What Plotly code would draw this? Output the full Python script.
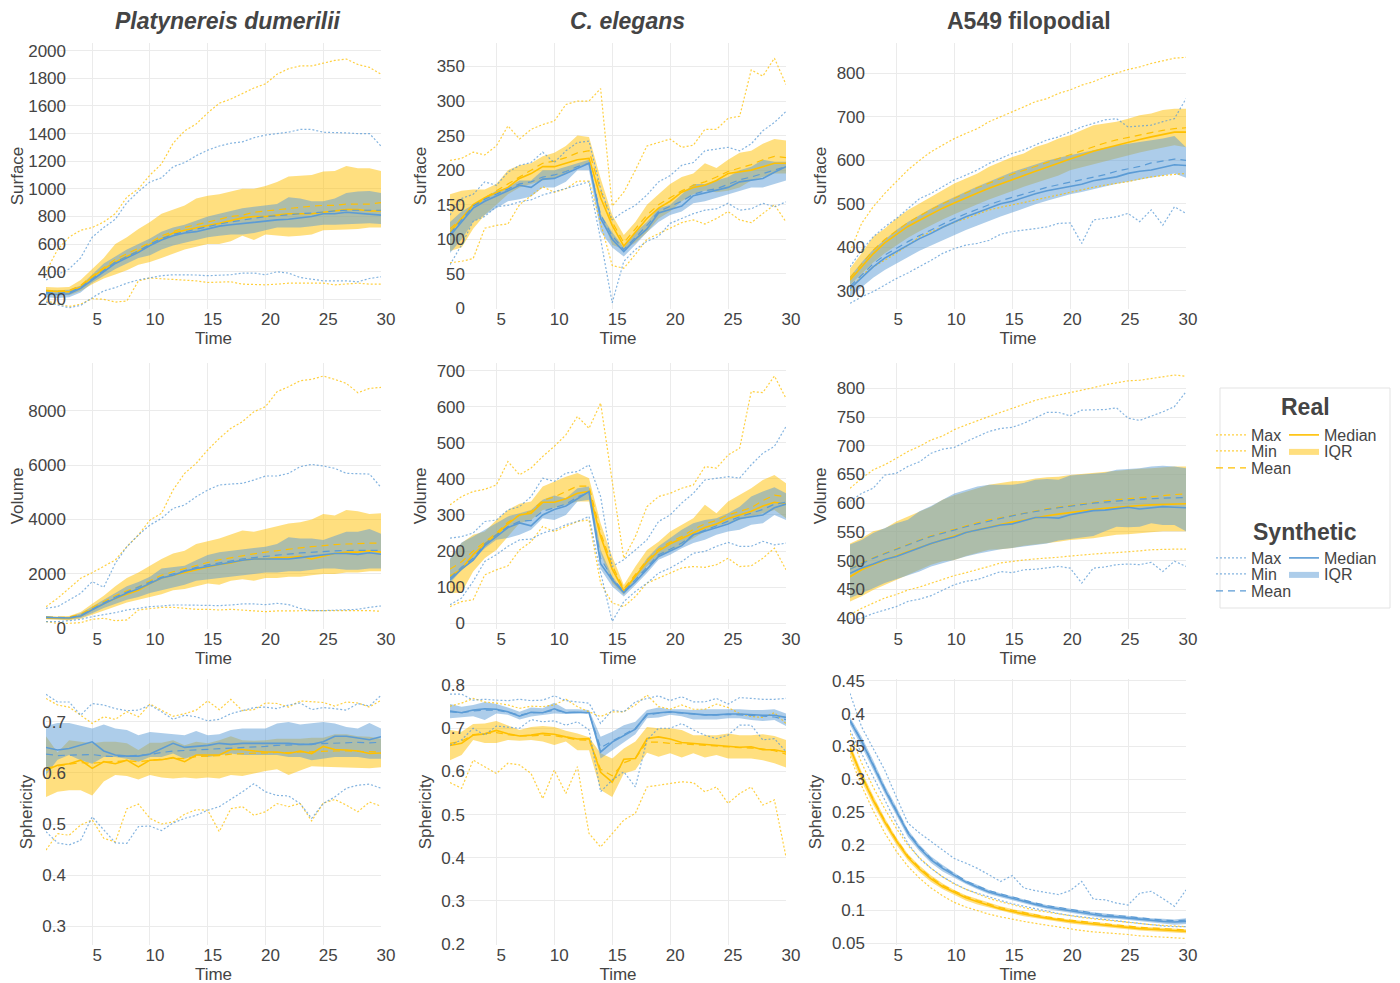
import plotly.graph_objects as go

# ---------------- data ----------------
time = list(range(1, 31))
metrics = ["Surface", "Volume", "Sphericity"]
datasets = ["Platynereis dumerilii", "C. elegans", "A549 filopodial"]
stat_names = ["Max", "Min", "Mean", "Median", "IQR"]

# Platynereis dumerilii - Surface
pd_surf_real_max = [400, 560, 650, 700, 720, 760, 820, 940, 1000, 1100, 1180, 1330, 1420, 1470, 1550, 1620, 1650, 1690, 1730, 1760, 1830, 1870, 1890, 1890, 1910, 1930, 1940, 1900, 1880, 1830]
pd_surf_real_min = [188, 170, 148, 165, 205, 200, 180, 188, 334, 354, 350, 346, 340, 334, 322, 325, 327, 310, 305, 305, 310, 317, 317, 317, 317, 305, 310, 317, 310, 310]
pd_surf_real_q1 = [240, 230, 230, 260, 310, 350, 380, 410, 450, 470, 500, 530, 560, 580, 600, 600, 620, 660, 630, 670, 660, 655, 660, 670, 700, 700, 705, 710, 720, 720]
pd_surf_real_q3 = [290, 285, 290, 340, 420, 500, 600, 650, 710, 760, 820, 850, 880, 930, 950, 960, 980, 1000, 1000, 1020, 1050, 1090, 1095, 1100, 1125, 1130, 1165, 1150, 1150, 1130]
pd_surf_real_med = [260, 255, 255, 290, 360, 420, 470, 510, 550, 600, 640, 680, 700, 720, 735, 750, 770, 790, 800, 800, 810, 820, 820, 820, 830, 840, 850, 850, 840, 840]
pd_surf_real_mean = [265, 260, 265, 300, 370, 430, 490, 530, 570, 610, 660, 690, 720, 740, 760, 780, 800, 810, 830, 840, 850, 860, 870, 875, 880, 880, 890, 890, 890, 900]
pd_surf_syn_max = [340, 380, 420, 500, 650, 720, 780, 900, 980, 1050, 1080, 1160, 1190, 1240, 1280, 1310, 1330, 1340, 1370, 1390, 1400, 1410, 1430, 1430, 1410, 1410, 1405, 1400, 1400, 1310]
pd_surf_syn_min = [180, 160, 139, 156, 212, 261, 285, 317, 341, 356, 371, 378, 378, 376, 371, 374, 378, 390, 390, 378, 400, 390, 358, 346, 334, 334, 334, 327, 351, 363]
pd_surf_syn_q1 = [215, 210, 215, 250, 320, 370, 420, 460, 500, 520, 560, 590, 610, 630, 650, 660, 670, 670, 680, 700, 720, 720, 720, 730, 740, 740, 745, 745, 750, 745]
pd_surf_syn_q3 = [270, 265, 270, 300, 380, 460, 510, 560, 600, 640, 690, 720, 740, 770, 800, 820, 840, 860, 870, 880, 890, 940, 930, 910, 910, 930, 970, 980, 985, 970]
pd_surf_syn_med = [240, 235, 240, 280, 340, 400, 460, 500, 540, 590, 630, 660, 680, 690, 710, 730, 740, 750, 760, 770, 775, 780, 790, 800, 820, 820, 830, 825, 820, 810]
pd_surf_syn_mean = [250, 245, 250, 285, 350, 410, 470, 510, 550, 600, 640, 670, 690, 710, 730, 745, 760, 775, 790, 800, 805, 815, 820, 825, 835, 840, 845, 845, 845, 845]

# C. elegans - Surface
ce_surf_real_max = [214, 217, 226, 222, 235, 264, 245, 259, 266, 271, 295, 300, 300, 318, 148, 168, 200, 235, 240, 245, 233, 236, 259, 259, 275, 278, 345, 336, 362, 324]
ce_surf_real_min = [66, 68, 72, 116, 120, 122, 150, 163, 176, 168, 173, 184, 184, 123, 62, 58, 78, 100, 108, 115, 124, 128, 122, 130, 140, 128, 124, 137, 150, 125]
ce_surf_real_q1 = [83, 88, 115, 135, 150, 165, 175, 180, 185, 188, 195, 205, 210, 135, 92, 85, 95, 110, 130, 140, 155, 165, 170, 168, 170, 175, 185, 190, 195, 195]
ce_surf_real_q3 = [165, 170, 172, 172, 180, 200, 207, 210, 220, 225, 235, 250, 248, 188, 135, 106, 125, 150, 165, 180, 190, 195, 210, 203, 215, 225, 228, 238, 245, 243]
ce_surf_real_med = [110, 130, 150, 160, 168, 175, 188, 195, 205, 205, 210, 215, 217, 160, 120, 90, 110, 130, 145, 155, 168, 175, 178, 185, 195, 197, 200, 205, 210, 210]
ce_surf_real_mean = [115, 130, 145, 160, 170, 180, 190, 200, 210, 213, 218, 225, 228, 170, 125, 95, 115, 135, 150, 160, 170, 178, 183, 190, 198, 203, 208, 215, 220, 218]
ce_surf_syn_max = [135, 159, 165, 183, 178, 197, 207, 211, 226, 211, 228, 240, 242, 173, 128, 140, 149, 164, 183, 192, 207, 211, 228, 231, 233, 228, 238, 257, 269, 285]
ce_surf_syn_min = [63, 92, 126, 133, 147, 149, 154, 157, 164, 169, 173, 178, 183, 100, 8, 68, 85, 97, 104, 123, 130, 137, 142, 144, 152, 142, 144, 152, 147, 154]
ce_surf_syn_q1 = [80, 100, 125, 135, 145, 155, 158, 162, 175, 175, 183, 200, 200, 111, 88, 75, 92, 110, 125, 135, 140, 152, 155, 160, 165, 170, 175, 175, 180, 185]
ce_surf_syn_q3 = [125, 140, 150, 160, 170, 175, 185, 185, 200, 200, 205, 210, 215, 137, 110, 88, 110, 125, 145, 150, 165, 180, 180, 185, 190, 200, 205, 215, 212, 212]
ce_surf_syn_med = [105, 125, 145, 155, 162, 170, 178, 175, 187, 188, 195, 202, 210, 130, 100, 82, 100, 115, 138, 143, 148, 163, 167, 170, 175, 183, 186, 188, 197, 205]
ce_surf_syn_mean = [108, 128, 148, 158, 165, 173, 180, 183, 190, 193, 198, 205, 210, 135, 105, 85, 103, 120, 140, 147, 155, 165, 170, 173, 180, 186, 190, 195, 200, 205]

# A549 filopodial - Surface
a5_surf_real_max = [390, 455, 493, 524, 551, 578, 600, 620, 635, 650, 662, 673, 689, 700, 712, 723, 735, 742, 754, 762, 773, 781, 792, 800, 809, 815, 823, 829, 835, 837]
a5_surf_real_min = [300, 336, 355, 371, 386, 405, 424, 436, 447, 457, 466, 476, 486, 492, 497, 503, 509, 515, 520, 526, 532, 538, 543, 547, 551, 557, 562, 565, 568, 570]
a5_surf_real_q1 = [313, 340, 365, 386, 405, 422, 437, 451, 464, 476, 488, 499, 510, 520, 530, 539, 548, 556, 565, 577, 584, 591, 598, 605, 612, 618, 624, 630, 635, 630]
a5_surf_real_q3 = [351, 386, 424, 443, 466, 486, 501, 516, 532, 547, 558, 570, 585, 597, 608, 616, 631, 639, 650, 658, 670, 681, 685, 689, 696, 704, 708, 716, 719, 719]
a5_surf_real_med = [325, 355, 385, 410, 430, 448, 462, 476, 490, 502, 514, 525, 536, 546, 556, 565, 575, 584, 594, 603, 612, 621, 628, 635, 642, 648, 654, 660, 665, 665]
a5_surf_real_mean = [330, 362, 393, 418, 438, 457, 472, 487, 500, 513, 525, 537, 548, 558, 568, 577, 587, 596, 605, 614, 623, 632, 640, 647, 653, 659, 664, 669, 673, 675]
a5_surf_syn_max = [355, 393, 424, 447, 466, 489, 512, 524, 539, 555, 566, 578, 593, 604, 616, 624, 635, 647, 654, 666, 677, 685, 693, 696, 677, 679, 681, 689, 696, 742]
a5_surf_syn_min = [271, 286, 298, 313, 328, 341, 355, 370, 386, 397, 405, 409, 416, 430, 436, 439, 443, 447, 455, 456, 409, 463, 466, 470, 478, 459, 486, 451, 493, 478]
a5_surf_syn_q1 = [286, 308, 330, 348, 363, 378, 392, 404, 416, 428, 440, 450, 461, 471, 480, 490, 499, 507, 515, 522, 527, 534, 540, 546, 551, 555, 560, 566, 570, 560]
a5_surf_syn_q3 = [332, 365, 395, 418, 440, 458, 474, 489, 503, 516, 528, 540, 551, 562, 573, 582, 591, 599, 606, 612, 618, 624, 629, 634, 638, 642, 646, 650, 656, 630]
a5_surf_syn_med = [305, 330, 355, 375, 390, 405, 420, 432, 446, 458, 470, 480, 490, 500, 506, 515, 523, 530, 535, 540, 545, 553, 558, 562, 570, 575, 578, 584, 590, 588]
a5_surf_syn_mean = [310, 336, 362, 382, 398, 413, 427, 440, 453, 466, 477, 488, 498, 507, 515, 523, 531, 538, 544, 550, 556, 562, 567, 575, 580, 586, 594, 598, 603, 600]

# Platynereis dumerilii - Volume
pd_vol_real_max = [797, 1103, 1470, 1838, 2046, 2267, 2512, 3002, 3431, 3982, 4227, 5085, 5697, 6065, 6555, 6983, 7351, 7596, 7963, 8147, 8698, 8882, 9102, 9151, 9274, 9151, 9005, 8662, 8820, 8857]
pd_vol_real_min = [246, 184, 184, 209, 331, 368, 282, 307, 674, 736, 772, 772, 736, 699, 699, 674, 699, 674, 650, 613, 638, 650, 650, 650, 650, 650, 650, 674, 650, 625]
pd_vol_real_q1 = [330, 310, 300, 350, 500, 650, 800, 950, 1050, 1150, 1250, 1400, 1450, 1550, 1650, 1600, 1750, 1800, 1750, 1850, 1850, 1900, 1900, 1950, 2000, 2000, 2050, 2050, 2100, 2100]
pd_vol_real_q3 = [450, 430, 450, 600, 900, 1200, 1550, 1850, 2050, 2300, 2550, 2750, 2850, 3100, 3200, 3300, 3450, 3600, 3550, 3650, 3750, 3850, 3900, 4000, 4200, 4150, 4350, 4300, 4200, 4230]
pd_vol_real_med = [380, 360, 360, 450, 700, 900, 1100, 1250, 1400, 1650, 1850, 1950, 2050, 2150, 2250, 2350, 2400, 2500, 2550, 2550, 2600, 2600, 2650, 2550, 2650, 2750, 2800, 2800, 2850, 2800]
pd_vol_real_mean = [420, 400, 410, 520, 760, 980, 1200, 1380, 1530, 1750, 1950, 2080, 2200, 2320, 2420, 2520, 2600, 2680, 2740, 2800, 2860, 2920, 2960, 3000, 3050, 3080, 3100, 3120, 3130, 3130]
pd_vol_syn_max = [736, 797, 1042, 1287, 1716, 1508, 2390, 3002, 3431, 3798, 4043, 4410, 4533, 4840, 5085, 5268, 5305, 5330, 5452, 5599, 5599, 5697, 5942, 6028, 5967, 5881, 5697, 5672, 5672, 5183]
pd_vol_syn_min = [246, 246, 282, 331, 429, 491, 576, 674, 736, 797, 821, 858, 858, 846, 834, 834, 858, 895, 895, 870, 919, 870, 736, 650, 650, 674, 674, 699, 772, 821]
pd_vol_syn_q1 = [340, 320, 320, 380, 550, 750, 900, 1050, 1150, 1300, 1400, 1500, 1600, 1750, 1800, 1850, 1900, 1950, 2000, 2050, 2050, 2100, 2100, 2150, 2200, 2200, 2150, 2150, 2200, 2200]
pd_vol_syn_q3 = [420, 400, 420, 550, 800, 1050, 1300, 1550, 1700, 1900, 2200, 2250, 2300, 2500, 2700, 2800, 2850, 2900, 2950, 3000, 3100, 3350, 3300, 3300, 3250, 3400, 3550, 3550, 3650, 3480]
pd_vol_syn_med = [400, 380, 380, 450, 680, 900, 1100, 1300, 1450, 1650, 1850, 1950, 2100, 2200, 2280, 2350, 2420, 2500, 2550, 2550, 2550, 2550, 2600, 2650, 2720, 2750, 2750, 2720, 2780, 2720]
pd_vol_syn_mean = [410, 390, 390, 480, 720, 940, 1150, 1330, 1490, 1700, 1880, 2000, 2130, 2240, 2330, 2410, 2480, 2550, 2600, 2650, 2690, 2730, 2770, 2800, 2830, 2850, 2860, 2870, 2880, 2870]

# C. elegans - Volume
ce_vol_real_max = [328, 351, 365, 371, 383, 448, 411, 430, 462, 490, 522, 573, 540, 610, 393, 180, 240, 323, 351, 360, 374, 383, 434, 430, 466, 485, 642, 639, 685, 623]
ce_vol_real_min = [46, 60, 65, 134, 148, 159, 203, 226, 268, 254, 268, 282, 286, 111, 56, 46, 74, 111, 125, 139, 153, 157, 155, 162, 180, 157, 159, 180, 208, 148]
ce_vol_real_q1 = [83, 85, 143, 180, 203, 240, 277, 286, 314, 319, 328, 337, 337, 194, 111, 79, 120, 157, 185, 199, 217, 236, 254, 268, 277, 286, 296, 305, 314, 291]
ce_vol_real_q3 = [176, 222, 245, 254, 286, 314, 331, 337, 379, 393, 406, 416, 402, 277, 185, 106, 157, 203, 226, 254, 273, 291, 328, 305, 337, 356, 374, 397, 411, 388]
ce_vol_real_med = [130, 150, 190, 220, 245, 275, 300, 305, 335, 335, 345, 360, 365, 240, 150, 90, 130, 170, 200, 220, 235, 250, 265, 275, 290, 300, 310, 325, 335, 330]
ce_vol_real_mean = [150, 170, 200, 225, 250, 280, 300, 310, 340, 350, 365, 380, 380, 250, 160, 95, 135, 175, 205, 225, 240, 260, 275, 285, 300, 310, 320, 340, 355, 350]
ce_vol_syn_max = [236, 240, 250, 282, 286, 314, 323, 351, 402, 393, 416, 420, 439, 351, 157, 176, 203, 231, 282, 300, 333, 360, 397, 402, 406, 402, 439, 471, 490, 545]
ce_vol_syn_min = [51, 70, 116, 171, 190, 213, 231, 233, 250, 259, 273, 282, 296, 140, 5, 60, 88, 111, 139, 153, 171, 194, 199, 213, 224, 213, 213, 227, 217, 222]
ce_vol_syn_q1 = [111, 148, 176, 208, 231, 236, 245, 259, 291, 286, 300, 337, 342, 150, 102, 74, 106, 139, 176, 190, 208, 222, 231, 245, 254, 259, 273, 277, 300, 286]
ce_vol_syn_q3 = [180, 224, 240, 259, 277, 296, 305, 314, 342, 354, 346, 374, 379, 203, 130, 88, 130, 180, 213, 236, 259, 277, 286, 291, 305, 323, 351, 365, 377, 360]
ce_vol_syn_med = [120, 150, 175, 215, 240, 265, 278, 270, 300, 315, 325, 345, 365, 165, 120, 85, 115, 150, 185, 200, 215, 245, 255, 265, 275, 290, 295, 300, 320, 330]
ce_vol_syn_mean = [125, 155, 180, 220, 245, 268, 282, 285, 310, 320, 330, 350, 362, 180, 125, 88, 120, 155, 190, 205, 222, 245, 258, 270, 282, 295, 305, 315, 330, 335]

# A549 filopodial - Volume
a5_vol_real_max = [626, 643, 658, 667, 678, 690, 699, 710, 717, 728, 736, 744, 751, 758, 765, 773, 779, 784, 788, 792, 797, 801, 806, 810, 813, 814, 817, 820, 823, 821]
a5_vol_real_min = [406, 417, 426, 435, 441, 449, 454, 461, 467, 474, 479, 484, 490, 496, 499, 501, 503, 504, 506, 508, 510, 512, 513, 514, 515, 517, 519, 520, 520, 520]
a5_vol_real_q1 = [429, 438, 449, 458, 467, 475, 484, 493, 499, 501, 508, 513, 519, 520, 522, 526, 528, 530, 533, 536, 537, 539, 542, 545, 546, 548, 549, 551, 551, 551]
a5_vol_real_q3 = [530, 539, 551, 556, 568, 577, 586, 594, 606, 614, 620, 626, 632, 635, 638, 639, 643, 645, 646, 649, 651, 653, 655, 657, 659, 660, 661, 663, 664, 664]
a5_vol_real_med = [472, 484, 493, 501, 508, 516, 523, 530, 537, 543, 549, 554, 559, 563, 567, 571, 575, 578, 581, 584, 587, 589, 591, 593, 595, 596, 597, 598, 599, 599]
a5_vol_real_mean = [485, 496, 505, 513, 521, 529, 536, 543, 549, 555, 561, 566, 571, 575, 579, 583, 587, 590, 593, 596, 599, 601, 604, 606, 608, 610, 612, 614, 615, 616]
a5_vol_syn_max = [603, 617, 626, 649, 652, 664, 672, 687, 694, 697, 707, 716, 725, 730, 732, 739, 749, 758, 758, 752, 762, 763, 763, 766, 748, 744, 751, 759, 768, 794]
a5_vol_syn_min = [394, 400, 408, 414, 420, 429, 433, 439, 449, 458, 464, 467, 474, 481, 479, 484, 485, 487, 490, 487, 461, 487, 489, 493, 494, 493, 497, 481, 499, 490]
a5_vol_syn_q1 = [435, 443, 452, 461, 468, 475, 481, 490, 496, 501, 507, 512, 516, 520, 522, 525, 528, 530, 535, 538, 541, 543, 551, 559, 558, 559, 565, 562, 562, 551]
a5_vol_syn_q3 = [528, 536, 548, 556, 565, 571, 586, 595, 606, 617, 623, 629, 632, 632, 632, 635, 641, 642, 641, 648, 650, 652, 653, 658, 659, 661, 664, 665, 664, 661]
a5_vol_syn_med = [478, 487, 494, 502, 507, 515, 522, 530, 536, 541, 549, 553, 557, 562, 564, 569, 575, 575, 574, 580, 584, 587, 588, 590, 593, 590, 592, 594, 593, 592]
a5_vol_syn_mean = [485, 495, 504, 512, 520, 528, 535, 542, 548, 554, 559, 564, 569, 574, 578, 582, 586, 589, 592, 595, 597, 600, 602, 604, 606, 607, 608, 609, 609, 610]

# Platynereis dumerilii - Sphericity
pd_sph_real_max = [0.746, 0.733, 0.729, 0.713, 0.697, 0.710, 0.705, 0.720, 0.710, 0.735, 0.723, 0.711, 0.716, 0.723, 0.741, 0.724, 0.744, 0.722, 0.724, 0.737, 0.736, 0.729, 0.741, 0.739, 0.738, 0.731, 0.739, 0.737, 0.729, 0.742]
pd_sph_real_min = [0.449, 0.481, 0.478, 0.498, 0.508, 0.472, 0.465, 0.530, 0.539, 0.511, 0.500, 0.504, 0.519, 0.528, 0.527, 0.485, 0.530, 0.534, 0.517, 0.524, 0.540, 0.534, 0.540, 0.506, 0.541, 0.548, 0.537, 0.524, 0.543, 0.535]
pd_sph_real_q1 = [0.553, 0.563, 0.566, 0.566, 0.556, 0.583, 0.596, 0.594, 0.587, 0.596, 0.591, 0.589, 0.591, 0.589, 0.591, 0.589, 0.596, 0.594, 0.599, 0.604, 0.607, 0.596, 0.605, 0.613, 0.612, 0.611, 0.611, 0.609, 0.609, 0.611]
pd_sph_real_q3 = [0.672, 0.640, 0.664, 0.661, 0.658, 0.661, 0.661, 0.658, 0.645, 0.659, 0.659, 0.664, 0.654, 0.661, 0.658, 0.664, 0.672, 0.664, 0.663, 0.664, 0.667, 0.667, 0.667, 0.669, 0.669, 0.676, 0.676, 0.672, 0.671, 0.667]
pd_sph_real_med = [0.605, 0.615, 0.618, 0.625, 0.609, 0.622, 0.618, 0.625, 0.612, 0.625, 0.626, 0.630, 0.622, 0.635, 0.635, 0.635, 0.646, 0.646, 0.643, 0.641, 0.641, 0.638, 0.643, 0.638, 0.652, 0.646, 0.645, 0.643, 0.638, 0.639]
pd_sph_real_mean = [0.610, 0.614, 0.617, 0.620, 0.619, 0.621, 0.622, 0.624, 0.622, 0.625, 0.627, 0.629, 0.628, 0.632, 0.633, 0.634, 0.637, 0.638, 0.638, 0.639, 0.640, 0.640, 0.641, 0.641, 0.643, 0.643, 0.643, 0.642, 0.641, 0.641]
pd_sph_syn_max = [0.754, 0.739, 0.739, 0.713, 0.736, 0.733, 0.726, 0.722, 0.723, 0.733, 0.720, 0.705, 0.713, 0.710, 0.702, 0.705, 0.716, 0.722, 0.728, 0.729, 0.726, 0.733, 0.737, 0.724, 0.728, 0.726, 0.723, 0.736, 0.731, 0.752]
pd_sph_syn_min = [0.485, 0.463, 0.459, 0.468, 0.514, 0.488, 0.463, 0.462, 0.495, 0.496, 0.487, 0.502, 0.511, 0.517, 0.527, 0.534, 0.548, 0.563, 0.579, 0.563, 0.556, 0.555, 0.540, 0.511, 0.540, 0.553, 0.570, 0.576, 0.578, 0.570]
pd_sph_syn_q1 = [0.596, 0.626, 0.635, 0.625, 0.618, 0.631, 0.631, 0.628, 0.622, 0.631, 0.631, 0.638, 0.628, 0.635, 0.631, 0.635, 0.638, 0.635, 0.635, 0.635, 0.635, 0.631, 0.631, 0.625, 0.628, 0.631, 0.631, 0.631, 0.628, 0.628]
pd_sph_syn_q3 = [0.692, 0.698, 0.698, 0.693, 0.687, 0.695, 0.687, 0.684, 0.674, 0.680, 0.678, 0.677, 0.674, 0.682, 0.674, 0.676, 0.684, 0.687, 0.687, 0.687, 0.697, 0.700, 0.695, 0.697, 0.700, 0.697, 0.690, 0.687, 0.698, 0.687]
pd_sph_syn_med = [0.650, 0.645, 0.648, 0.654, 0.661, 0.643, 0.635, 0.633, 0.633, 0.637, 0.648, 0.658, 0.650, 0.652, 0.654, 0.658, 0.656, 0.658, 0.658, 0.659, 0.659, 0.658, 0.656, 0.656, 0.661, 0.672, 0.672, 0.669, 0.665, 0.671]
pd_sph_syn_mean = [0.637, 0.634, 0.635, 0.636, 0.636, 0.633, 0.632, 0.633, 0.634, 0.636, 0.640, 0.643, 0.644, 0.645, 0.646, 0.647, 0.649, 0.650, 0.651, 0.652, 0.654, 0.655, 0.655, 0.656, 0.657, 0.659, 0.660, 0.660, 0.659, 0.660]

# C. elegans - Sphericity
ce_sph_real_max = [0.751, 0.758, 0.769, 0.761, 0.758, 0.754, 0.746, 0.751, 0.750, 0.754, 0.767, 0.750, 0.738, 0.727, 0.738, 0.738, 0.754, 0.777, 0.750, 0.744, 0.754, 0.744, 0.744, 0.756, 0.748, 0.734, 0.727, 0.725, 0.736, 0.711]
ce_sph_real_min = [0.574, 0.561, 0.626, 0.611, 0.595, 0.619, 0.615, 0.595, 0.537, 0.603, 0.549, 0.611, 0.456, 0.425, 0.456, 0.487, 0.503, 0.564, 0.568, 0.572, 0.576, 0.574, 0.553, 0.564, 0.526, 0.549, 0.564, 0.522, 0.534, 0.402]
ce_sph_real_q1 = [0.626, 0.638, 0.673, 0.666, 0.666, 0.673, 0.671, 0.673, 0.669, 0.661, 0.669, 0.649, 0.649, 0.557, 0.541, 0.595, 0.603, 0.643, 0.634, 0.642, 0.632, 0.642, 0.632, 0.638, 0.630, 0.630, 0.630, 0.626, 0.619, 0.609]
ce_sph_real_q3 = [0.696, 0.692, 0.710, 0.711, 0.717, 0.707, 0.696, 0.703, 0.705, 0.703, 0.694, 0.688, 0.679, 0.642, 0.630, 0.653, 0.669, 0.703, 0.700, 0.700, 0.696, 0.684, 0.684, 0.684, 0.688, 0.684, 0.684, 0.686, 0.682, 0.673]
ce_sph_real_med = [0.660, 0.665, 0.684, 0.687, 0.695, 0.687, 0.682, 0.684, 0.688, 0.686, 0.680, 0.675, 0.676, 0.598, 0.575, 0.628, 0.630, 0.676, 0.680, 0.675, 0.667, 0.665, 0.662, 0.661, 0.658, 0.656, 0.657, 0.650, 0.650, 0.645]
ce_sph_real_mean = [0.665, 0.670, 0.685, 0.688, 0.690, 0.685, 0.682, 0.682, 0.684, 0.683, 0.678, 0.673, 0.672, 0.605, 0.590, 0.620, 0.630, 0.668, 0.668, 0.665, 0.664, 0.662, 0.660, 0.659, 0.657, 0.655, 0.654, 0.652, 0.648, 0.640]
ce_sph_syn_max = [0.779, 0.779, 0.765, 0.767, 0.765, 0.764, 0.767, 0.764, 0.765, 0.775, 0.764, 0.761, 0.758, 0.711, 0.742, 0.738, 0.761, 0.769, 0.775, 0.764, 0.773, 0.761, 0.761, 0.769, 0.756, 0.771, 0.769, 0.767, 0.767, 0.769]
ce_sph_syn_min = [0.661, 0.673, 0.700, 0.684, 0.705, 0.703, 0.700, 0.720, 0.715, 0.717, 0.707, 0.715, 0.696, 0.553, 0.580, 0.599, 0.564, 0.673, 0.700, 0.700, 0.711, 0.696, 0.684, 0.676, 0.684, 0.707, 0.707, 0.673, 0.676, 0.646]
ce_sph_syn_q1 = [0.723, 0.725, 0.728, 0.719, 0.734, 0.731, 0.720, 0.727, 0.731, 0.734, 0.733, 0.734, 0.736, 0.630, 0.649, 0.669, 0.686, 0.723, 0.725, 0.731, 0.728, 0.720, 0.720, 0.720, 0.723, 0.723, 0.719, 0.717, 0.719, 0.705]
ce_sph_syn_q3 = [0.756, 0.750, 0.754, 0.761, 0.756, 0.748, 0.738, 0.748, 0.746, 0.759, 0.744, 0.744, 0.742, 0.680, 0.692, 0.707, 0.715, 0.742, 0.748, 0.744, 0.744, 0.742, 0.744, 0.744, 0.744, 0.744, 0.742, 0.742, 0.744, 0.734]
ce_sph_syn_med = [0.740, 0.736, 0.742, 0.745, 0.744, 0.738, 0.728, 0.737, 0.736, 0.745, 0.736, 0.737, 0.736, 0.645, 0.668, 0.683, 0.698, 0.733, 0.736, 0.738, 0.736, 0.733, 0.731, 0.731, 0.733, 0.733, 0.731, 0.730, 0.730, 0.725]
ce_sph_syn_mean = [0.738, 0.736, 0.740, 0.742, 0.742, 0.737, 0.730, 0.736, 0.736, 0.742, 0.737, 0.737, 0.735, 0.655, 0.670, 0.685, 0.700, 0.730, 0.735, 0.737, 0.735, 0.733, 0.731, 0.731, 0.732, 0.731, 0.730, 0.728, 0.726, 0.720]

# A549 filopodial - Sphericity
a5_sph_real_max = [0.370, 0.325, 0.288, 0.255, 0.225, 0.199, 0.180, 0.164, 0.151, 0.140, 0.132, 0.125, 0.118, 0.113, 0.108, 0.104, 0.100, 0.097, 0.094, 0.091, 0.089, 0.087, 0.085, 0.083, 0.081, 0.080, 0.078, 0.077, 0.076, 0.075]
a5_sph_real_min = [0.335, 0.290, 0.252, 0.218, 0.190, 0.167, 0.149, 0.134, 0.122, 0.112, 0.105, 0.099, 0.094, 0.090, 0.086, 0.083, 0.080, 0.077, 0.074, 0.071, 0.069, 0.067, 0.066, 0.064, 0.063, 0.061, 0.060, 0.059, 0.058, 0.057]
a5_sph_real_q1 = [0.338, 0.297, 0.261, 0.229, 0.200, 0.176, 0.158, 0.143, 0.132, 0.123, 0.115, 0.109, 0.104, 0.099, 0.095, 0.091, 0.088, 0.085, 0.082, 0.080, 0.078, 0.076, 0.074, 0.072, 0.071, 0.069, 0.068, 0.067, 0.066, 0.065]
a5_sph_real_q3 = [0.354, 0.312, 0.275, 0.241, 0.211, 0.186, 0.168, 0.153, 0.141, 0.131, 0.123, 0.117, 0.111, 0.106, 0.102, 0.098, 0.094, 0.091, 0.088, 0.086, 0.084, 0.082, 0.080, 0.078, 0.077, 0.075, 0.074, 0.073, 0.072, 0.071]
a5_sph_real_med = [0.348, 0.305, 0.268, 0.235, 0.206, 0.181, 0.163, 0.148, 0.136, 0.127, 0.119, 0.113, 0.107, 0.102, 0.098, 0.094, 0.091, 0.088, 0.085, 0.083, 0.081, 0.079, 0.077, 0.075, 0.074, 0.072, 0.071, 0.070, 0.069, 0.068]
a5_sph_real_mean = [0.347, 0.306, 0.270, 0.237, 0.208, 0.183, 0.165, 0.150, 0.138, 0.129, 0.121, 0.115, 0.109, 0.104, 0.100, 0.096, 0.093, 0.090, 0.087, 0.085, 0.083, 0.081, 0.079, 0.077, 0.076, 0.074, 0.073, 0.072, 0.071, 0.070]
a5_sph_syn_max = [0.431, 0.380, 0.347, 0.314, 0.273, 0.233, 0.218, 0.205, 0.192, 0.179, 0.172, 0.164, 0.154, 0.144, 0.153, 0.134, 0.130, 0.127, 0.124, 0.130, 0.144, 0.117, 0.116, 0.111, 0.108, 0.126, 0.129, 0.118, 0.106, 0.131]
a5_sph_syn_min = [0.375, 0.339, 0.304, 0.268, 0.233, 0.202, 0.179, 0.164, 0.151, 0.141, 0.132, 0.126, 0.120, 0.115, 0.110, 0.106, 0.102, 0.098, 0.095, 0.092, 0.090, 0.087, 0.085, 0.083, 0.081, 0.079, 0.078, 0.076, 0.075, 0.075]
a5_sph_syn_q1 = [0.383, 0.350, 0.314, 0.278, 0.245, 0.212, 0.190, 0.172, 0.159, 0.149, 0.140, 0.132, 0.125, 0.120, 0.115, 0.111, 0.106, 0.102, 0.099, 0.096, 0.093, 0.090, 0.088, 0.087, 0.085, 0.083, 0.081, 0.079, 0.078, 0.079]
a5_sph_syn_q3 = [0.395, 0.365, 0.329, 0.291, 0.258, 0.223, 0.200, 0.182, 0.169, 0.157, 0.146, 0.139, 0.131, 0.126, 0.121, 0.116, 0.112, 0.108, 0.105, 0.102, 0.100, 0.097, 0.095, 0.093, 0.092, 0.090, 0.088, 0.087, 0.086, 0.088]
a5_sph_syn_med = [0.389, 0.358, 0.321, 0.284, 0.251, 0.218, 0.195, 0.177, 0.164, 0.153, 0.143, 0.135, 0.128, 0.123, 0.118, 0.113, 0.109, 0.105, 0.102, 0.099, 0.096, 0.093, 0.091, 0.090, 0.088, 0.086, 0.085, 0.083, 0.082, 0.083]
a5_sph_syn_mean = [0.390, 0.359, 0.323, 0.286, 0.253, 0.220, 0.197, 0.179, 0.166, 0.155, 0.145, 0.137, 0.130, 0.125, 0.120, 0.115, 0.111, 0.107, 0.104, 0.101, 0.098, 0.095, 0.093, 0.092, 0.090, 0.088, 0.087, 0.085, 0.084, 0.085]

# ---------------- layout geometry ----------------
# The page body adds an 8 px offset; positions below are in screenshot pixels.
OFF = 8
W, H = 1400, 983
PLOT_L, PLOT_R, PLOT_T, PLOT_B = 46, 1186, 43, 945   # screenshot px
ML = PLOT_L - OFF
MT = PLOT_T - OFF
MR = W - (PLOT_R - OFF)
MB = H - (PLOT_B - OFF)
PW = W - ML - MR
PH = H - MT - MB


def fx(px):
    return (px - OFF - ML) / PW


def fy(py):
    return (H - MB - (py - OFF)) / PH


COLS = [(46, 381), (450, 786), (850, 1186)]
ROWS = [(43, 309), (363, 629), (679, 945)]

FONT = "Liberation Sans, Arial, Helvetica, sans-serif"
TXT = "#444444"
GRID = "#EBEBEB"

REAL_C = "rgb(255,192,0)"
REAL_CL = "rgba(255,192,0,0.75)"
REAL_FILL = "rgba(255,192,0,0.5)"
SYN_C = "rgb(91,155,213)"
SYN_CL = "rgba(91,155,213,0.75)"
SYN_FILL = "rgba(91,155,213,0.5)"

panels = [
    [  # Surface
        dict(real=(pd_surf_real_max, pd_surf_real_min, pd_surf_real_mean, pd_surf_real_med, pd_surf_real_q1, pd_surf_real_q3),
             syn=(pd_surf_syn_max, pd_surf_syn_min, pd_surf_syn_mean, pd_surf_syn_med, pd_surf_syn_q1, pd_surf_syn_q3),
             yrange=[130, 2056], dtick=200),
        dict(real=(ce_surf_real_max, ce_surf_real_min, ce_surf_real_mean, ce_surf_real_med, ce_surf_real_q1, ce_surf_real_q3),
             syn=(ce_surf_syn_max, ce_surf_syn_min, ce_surf_syn_mean, ce_surf_syn_med, ce_surf_syn_q1, ce_surf_syn_q3),
             yrange=[-1, 384], dtick=50),
        dict(real=(a5_surf_real_max, a5_surf_real_min, a5_surf_real_mean, a5_surf_real_med, a5_surf_real_q1, a5_surf_real_q3),
             syn=(a5_surf_syn_max, a5_surf_syn_min, a5_surf_syn_mean, a5_surf_syn_med, a5_surf_syn_q1, a5_surf_syn_q3),
             yrange=[258, 870], dtick=100),
    ],
    [  # Volume
        dict(real=(pd_vol_real_max, pd_vol_real_min, pd_vol_real_mean, pd_vol_real_med, pd_vol_real_q1, pd_vol_real_q3),
             syn=(pd_vol_syn_max, pd_vol_syn_min, pd_vol_syn_mean, pd_vol_syn_med, pd_vol_syn_q1, pd_vol_syn_q3),
             yrange=[-25, 9754], dtick=2000),
        dict(real=(ce_vol_real_max, ce_vol_real_min, ce_vol_real_mean, ce_vol_real_med, ce_vol_real_q1, ce_vol_real_q3),
             syn=(ce_vol_syn_max, ce_vol_syn_min, ce_vol_syn_mean, ce_vol_syn_med, ce_vol_syn_q1, ce_vol_syn_q3),
             yrange=[-16, 721], dtick=100),
        dict(real=(a5_vol_real_max, a5_vol_real_min, a5_vol_real_mean, a5_vol_real_med, a5_vol_real_q1, a5_vol_real_q3),
             syn=(a5_vol_syn_max, a5_vol_syn_min, a5_vol_syn_mean, a5_vol_syn_med, a5_vol_syn_q1, a5_vol_syn_q3),
             yrange=[381, 844], dtick=50),
    ],
    [  # Sphericity
        dict(real=(pd_sph_real_max, pd_sph_real_min, pd_sph_real_mean, pd_sph_real_med, pd_sph_real_q1, pd_sph_real_q3),
             syn=(pd_sph_syn_max, pd_sph_syn_min, pd_sph_syn_mean, pd_sph_syn_med, pd_sph_syn_q1, pd_sph_syn_q3),
             yrange=[0.263, 0.784], dtick=0.1),
        dict(real=(ce_sph_real_max, ce_sph_real_min, ce_sph_real_mean, ce_sph_real_med, ce_sph_real_q1, ce_sph_real_q3),
             syn=(ce_sph_syn_max, ce_sph_syn_min, ce_sph_syn_mean, ce_sph_syn_med, ce_sph_syn_q1, ce_sph_syn_q3),
             yrange=[0.198, 0.814], dtick=0.1),
        dict(real=(a5_sph_real_max, a5_sph_real_min, a5_sph_real_mean, a5_sph_real_med, a5_sph_real_q1, a5_sph_real_q3),
             syn=(a5_sph_syn_max, a5_sph_syn_min, a5_sph_syn_mean, a5_sph_syn_med, a5_sph_syn_q1, a5_sph_syn_q3),
             yrange=[0.047, 0.453], dtick=0.05),
    ],
]

# legend slots: one legend per entry for exact placement
LEG_COL1_X, LEG_COL2_X = 1211, 1284
leg_pos = {
    ("real", "Max"): (LEG_COL1_X, 435), ("real", "Min"): (LEG_COL1_X, 451), ("real", "Mean"): (LEG_COL1_X, 468),
    ("real", "Median"): (LEG_COL2_X, 435), ("real", "IQR"): (LEG_COL2_X, 451),
    ("syn", "Max"): (LEG_COL1_X, 558), ("syn", "Min"): (LEG_COL1_X, 574), ("syn", "Mean"): (LEG_COL1_X, 591),
    ("syn", "Median"): (LEG_COL2_X, 558), ("syn", "IQR"): (LEG_COL2_X, 574),
}
leg_ids = {}
for i, key in enumerate(leg_pos):
    leg_ids[key] = "legend" if i == 0 else f"legend{i + 1}"

fig = go.Figure()
layout = {}

for r in range(3):
    for c in range(3):
        n = r * 3 + c + 1
        sfx = "" if n == 1 else str(n)
        xa, ya = "x" + sfx, "y" + sfx
        p = panels[r][c]
        first = (n == 1)

        def add(y, name, kind, color, dash, width, fill=None, fillcolor=None, legend_key=None, show=False):
            fig.add_trace(go.Scatter(
                x=time, y=y, mode="lines", name=name,
                line=dict(color=color, dash=dash, width=width),
                fill=fill, fillcolor=fillcolor,
                xaxis=xa, yaxis=ya,
                legendgroup=f"{kind}-{name}",
                legend=leg_ids[legend_key] if legend_key else None,
                showlegend=show,
            ))

        # IQR bands: real first, synthetic on top
        for kind, fillc, lc in (("real", REAL_FILL, REAL_C), ("syn", SYN_FILL, SYN_C)):
            mx, mn, me, md, q1, q3 = p[kind]
            add(q1, "q1", kind, lc, "solid", 0)
            add(q3, "IQR", kind, lc, "solid", 0, fill="tonexty", fillcolor=fillc,
                legend_key=(kind, "IQR"), show=first)
        # statistic lines
        for kind, c_main, c_light in (("real", REAL_C, REAL_CL), ("syn", SYN_C, SYN_CL)):
            mx, mn, me, md, q1, q3 = p[kind]
            add(mx, "Max", kind, c_light, "2px,2px", 1.2, legend_key=(kind, "Max"), show=first)
            add(mn, "Min", kind, c_light, "2px,2px", 1.2, legend_key=(kind, "Min"), show=first)
            add(me, "Mean", kind, c_main, "7px,5px", 1.2, legend_key=(kind, "Mean"), show=first)
            add(md, "Median", kind, c_main, "solid", 1.6, legend_key=(kind, "Median"), show=first)

        x0, x1 = COLS[c]
        y0, y1 = ROWS[r]
        layout["xaxis" + sfx] = dict(
            domain=[fx(x0), fx(x1)], anchor=ya, range=[1, 30], dtick=5, tick0=0,
            showgrid=True, gridcolor=GRID, gridwidth=1, zeroline=False, showline=False, ticks="",
            tickfont=dict(size=17, color=TXT, family=FONT), ticklabelshift=5 if c < 2 else 2,
            ticklabelstandoff=-2,
            title=dict(text="Time", font=dict(size=17, color=TXT, family=FONT), standoff=0),
            automargin=False,
        )
        layout["yaxis" + sfx] = dict(
            domain=[fy(y1), fy(y0)], anchor=xa, range=p["yrange"], dtick=p["dtick"],
            showgrid=True, gridcolor=GRID, gridwidth=1, zeroline=False, showline=False, ticks="",
            tickfont=dict(size=17, color=TXT, family=FONT), exponentformat="none",
            ticklabelstandoff=-21 if c == 0 else -16,
            title=dict(text=metrics[r], font=dict(size=17, color=TXT, family=FONT), standoff=5),
            automargin=False,
        )

# legends
for key, (lx, ly) in leg_pos.items():
    layout[leg_ids[key]] = dict(
        x=fx(lx), y=fy(ly), xanchor="left", yanchor="middle", xref="paper", yref="paper",
        bgcolor="rgba(0,0,0,0)", borderwidth=0, font=dict(size=16, color=TXT, family=FONT),
        itemwidth=30, orientation="v",
    )

annotations = []
title_pos = [(228, 21), (627, 21), (1029, 21)]
title_txt = ["<b><i>Platynereis dumerilii</i></b>", "<b><i>C. elegans</i></b>", "<b>A549 filopodial</b>"]
for (tx, ty), t in zip(title_pos, title_txt):
    annotations.append(dict(x=fx(tx), y=fy(ty), xref="paper", yref="paper", text=t, showarrow=False,
                            xanchor="center", yanchor="middle", font=dict(size=23, color=TXT, family=FONT)))
for txt, ty in (("<b>Real</b>", 407), ("<b>Synthetic</b>", 532)):
    annotations.append(dict(x=fx(1305), y=fy(ty), xref="paper", yref="paper", text=txt, showarrow=False,
                            xanchor="center", yanchor="middle", font=dict(size=23, color=TXT, family=FONT)))

shapes = [dict(type="rect", xref="paper", yref="paper", x0=fx(1220), x1=fx(1390), y0=fy(608), y1=fy(388),
               line=dict(color="#E3E3E3", width=1), fillcolor="rgba(0,0,0,0)", layer="below")]

fig.update_layout(
    width=W, height=H,
    margin=dict(l=ML, r=MR, t=MT, b=MB, autoexpand=False),
    paper_bgcolor="white", plot_bgcolor="white",
    font=dict(family=FONT, size=17, color=TXT),
    showlegend=True, hovermode=False,
    annotations=annotations, shapes=shapes,
    **layout,
)

fig.write_html("out.html")
